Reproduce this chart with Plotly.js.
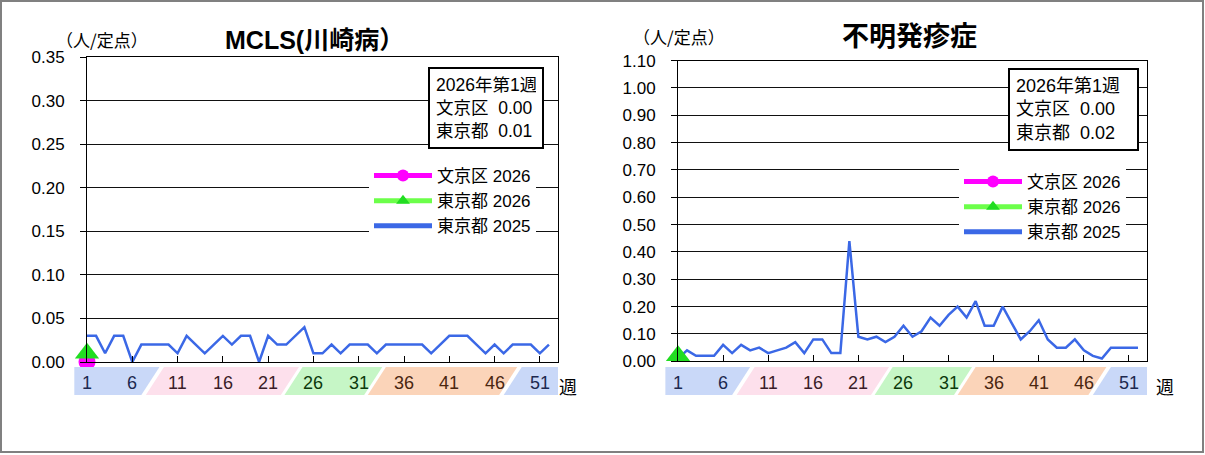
<!DOCTYPE html>
<html>
<head>
<meta charset="utf-8">
<script src="https://cdn.plot.ly/plotly-3.0.1.min.js"></script>
<style>
  body { margin: 0; background: #fff; }
  #chart { width: 1205px; height: 455px; }
</style>
</head>
<body>
<div id="chart"></div>
<script>
// week numbers (x axis)
var weeks = [1, 2, 3, 4, 5, 6, 7, 8, 9, 10, 11, 12, 13, 14, 15, 16, 17, 18, 19, 20,
  21, 22, 23, 24, 25, 26, 27, 28, 29, 30, 31, 32, 33, 34, 35, 36, 37, 38, 39, 40,
  41, 42, 43, 44, 45, 46, 47, 48, 49, 50, 51, 52];
var weekTicks = [1, 6, 11, 16, 21, 26, 31, 36, 41, 46, 51];
var weekTickColors = ['#1c2850', '#1c2850', '#3a1c28', '#3a1c28', '#3a1c28', '#0c3a0c',
  '#0c3a0c', '#4a2610', '#4a2610', '#4a2610', '#1c2850'];

// season bands under the axis (week ranges, top edge)
var bandStart = [-0.4, 9.5, 24.8, 34.0, 49.0];
var bandEnd = [9.0, 24.4, 33.6, 48.5, 53];
var bandColors = ['#c9d8f8', '#fde0ec', '#c6f6c6', '#fbd4b9', '#c9d8f8'];

// MCLS (川崎病)
var mclsTokyo2025 = [0.03, 0.03, 0.01, 0.03, 0.03, 0.00, 0.02, 0.02, 0.02, 0.02,
  0.01, 0.03, 0.02, 0.01, 0.02, 0.03, 0.02, 0.03, 0.03, 0.00,
  0.03, 0.02, 0.02, 0.03, 0.04, 0.01, 0.01, 0.02, 0.01, 0.02,
  0.02, 0.02, 0.01, 0.02, 0.02, 0.02, 0.02, 0.02, 0.01, 0.02,
  0.03, 0.03, 0.03, 0.02, 0.01, 0.02, 0.01, 0.02, 0.02, 0.02,
  0.01, 0.02];
var mclsBunkyo2026 = [0.00];
var mclsTokyo2026 = [0.01];

// 不明発疹症
var fumeiTokyo2025 = [0.01, 0.04, 0.02, 0.02, 0.02, 0.06, 0.03, 0.06, 0.04, 0.05,
  0.03, 0.04, 0.05, 0.07, 0.03, 0.08, 0.08, 0.03, 0.03, 0.44,
  0.09, 0.08, 0.09, 0.07, 0.09, 0.13, 0.09, 0.11, 0.16, 0.13,
  0.17, 0.20, 0.16, 0.22, 0.13, 0.13, 0.20, 0.14, 0.08, 0.11,
  0.15, 0.08, 0.05, 0.05, 0.08, 0.04, 0.02, 0.01, 0.05, 0.05,
  0.05, 0.05];
var fumeiBunkyo2026 = [null];
var fumeiTokyo2026 = [0.02];

var week2026 = [1];

var jpFont = 'Liberation Sans, Arial, Noto Sans CJK JP, sans-serif';
var blue = '#3b68e6';
var magenta = '#ff00ff';
var green = '#22dd22';

function seriesTraces(ax, leg, tokyo2025, bunkyo2026, tokyo2026) {
  return [
    {
      x: weeks, y: tokyo2025, xaxis: 'x' + ax, yaxis: 'y' + ax, legend: leg,
      name: '東京都 2025', type: 'scatter', mode: 'lines', legendrank: 3,
      line: { color: blue, width: 2.5 }
    },
    {
      x: week2026, y: bunkyo2026, xaxis: 'x' + ax, yaxis: 'y' + ax, legend: leg,
      name: '文京区 2026', type: 'scatter', mode: 'lines+markers', legendrank: 1,
      cliponaxis: false,
      line: { color: magenta, width: 5 },
      marker: { color: magenta, size: 17, symbol: 'circle' }
    },
    {
      x: week2026, y: tokyo2026, xaxis: 'x' + ax, yaxis: 'y' + ax, legend: leg,
      name: '東京都 2026', type: 'scatter', mode: 'lines+markers', legendrank: 2,
      cliponaxis: false,
      line: { color: '#6cff4a', width: 5 },
      marker: { color: green, size: 21, symbol: 'triangle-up' }
    }
  ];
}

var data = [].concat(
  seriesTraces('', 'legend', mclsTokyo2025, mclsBunkyo2026, mclsTokyo2026),
  seriesTraces('2', 'legend2', fumeiTokyo2025, fumeiBunkyo2026, fumeiTokyo2026)
);

function xAxis(domain, anchor) {
  return {
    domain: domain, range: [1, 53], fixedrange: true, anchor: anchor,
    showgrid: false, zeroline: false,
    showline: true, linecolor: '#000', linewidth: 1, mirror: true,
    ticks: 'inside', ticklen: 6, tickcolor: '#000',
    tickvals: weekTicks, showticklabels: false
  };
}

function yAxis(domain, range, dtick, anchor) {
  return {
    domain: domain, range: range, dtick: dtick, tick0: 0, fixedrange: true,
    anchor: anchor, tickformat: '.2f',
    showgrid: true, gridcolor: '#111', gridwidth: 1, zeroline: false,
    showline: true, linecolor: '#000', linewidth: 1, mirror: true,
    ticks: 'outside', ticklen: 6, tickcolor: '#000',
    ticklabelstandoff: 12,
    tickfont: { family: jpFont, size: 17, color: '#000' }
  };
}

var H = 455;
function py(pixel) { return (H - pixel) / H; }

var shapes = [{
  type: 'rect', xref: 'paper', yref: 'paper',
  x0: 1 / 1205, x1: 1203 / 1205, y0: py(452), y1: py(1),
  line: { color: '#808080', width: 2 }, fillcolor: 'rgba(0,0,0,0)'
}];

var annotations = [];

function addPanel(ax, title, titleSize, titleX, titleY, unitX, unitY, boxX, boxY, boxText, boxW, boxFont, weekX) {
  var slant = 2.0;
  var f = function (w) { return (w - 1) / 52; };
  for (var i = 0; i < bandColors.length; i++) {
    var t0 = bandStart[i], t1 = bandEnd[i];
    var b0 = i === 0 ? t0 : t0 - slant;
    var b1 = i === bandColors.length - 1 ? t1 : t1 - slant;
    shapes.push({
      type: 'path', xref: 'x' + ax + ' domain', yref: 'paper',
      path: 'M' + f(t0) + ',' + py(367) + ' L' + f(t1) + ',' + py(367) +
        ' L' + f(b1) + ',' + py(395) + ' L' + f(b0) + ',' + py(395) + ' Z',
      fillcolor: bandColors[i], line: { width: 0 }
    });
  }
  for (var k = 0; k < weekTicks.length; k++) {
    annotations.push({
      xref: 'x' + ax, yref: 'paper', x: weekTicks[k], y: py(383),
      text: String(weekTicks[k]), showarrow: false, xanchor: 'center', yanchor: 'middle',
      font: { family: jpFont, size: 18, color: weekTickColors[k] }
    });
  }
  annotations.push({
    xref: 'paper', yref: 'paper', x: weekX / 1205, y: py(386),
    text: '週', showarrow: false, xanchor: 'center', yanchor: 'middle',
    font: { family: 'Noto Sans CJK JP', size: 18, color: '#000' }
  });
  annotations.push({
    xref: 'paper', yref: 'paper', x: titleX / 1205, y: py(titleY),
    text: '<b>' + title + '</b>', showarrow: false, xanchor: 'center', yanchor: 'middle',
    font: { family: 'Liberation Sans, Noto Sans CJK JP', size: titleSize, color: '#000' }
  });
  annotations.push({
    xref: 'paper', yref: 'paper', x: unitX / 1205, y: py(unitY),
    text: '（人/定点）', showarrow: false, xanchor: 'center', yanchor: 'middle',
    font: { family: 'Noto Sans CJK JP', size: 17, color: '#000' }
  });
  annotations.push({
    xref: 'paper', yref: 'paper', x: boxX / 1205, y: py(boxY),
    text: boxText, showarrow: false, xanchor: 'left', yanchor: 'top', align: 'left',
    width: boxW, bgcolor: '#fff', bordercolor: '#000', borderwidth: 2, borderpad: 6,
    font: { family: jpFont, size: boxFont, color: '#000' }
  });
}

var sp = '\u00a0\u00a0';
addPanel('', 'MCLS(川崎病）', 25, 314, 40, 102, 39, 428, 67,
  '2026年第1週<br>文京区' + sp + '0.00<br>東京都' + sp + '0.01', 100, 17.5, 568);
addPanel('2', '不明発疹症', 27, 909, 37, 679, 36, 1008, 68,
  '2026年第1週<br>文京区' + sp + '0.00<br>東京都' + sp + '0.02', 115, 18, 1165);

var legendBase = {
  xanchor: 'left', yanchor: 'top', bgcolor: '#fff', borderwidth: 0,
  itemwidth: 58, itemsizing: 'constant', traceorder: 'normal',
  font: { family: jpFont, size: 17, color: '#000' }
};

var layout = {
  width: 1205, height: 455,
  margin: { l: 0, r: 0, t: 0, b: 0 },
  paper_bgcolor: '#fff', plot_bgcolor: '#fff',
  showlegend: true,
  xaxis: xAxis([87 / 1205, 558 / 1205], 'y'),
  yaxis: yAxis([py(362), py(57)], [0, 0.35], 0.05, 'x'),
  xaxis2: xAxis([678 / 1205, 1147 / 1205], 'y2'),
  yaxis2: yAxis([py(361.3), py(60.6)], [0, 1.10], 0.10, 'x2'),
  legend: Object.assign({}, legendBase, { x: 369 / 1205, y: py(158) }),
  legend2: Object.assign({}, legendBase, { x: 959 / 1205, y: py(164) }),
  shapes: shapes,
  annotations: annotations
};

Plotly.newPlot('chart', data, layout, { displayModeBar: false, staticPlot: true });
</script>
</body>
</html>
